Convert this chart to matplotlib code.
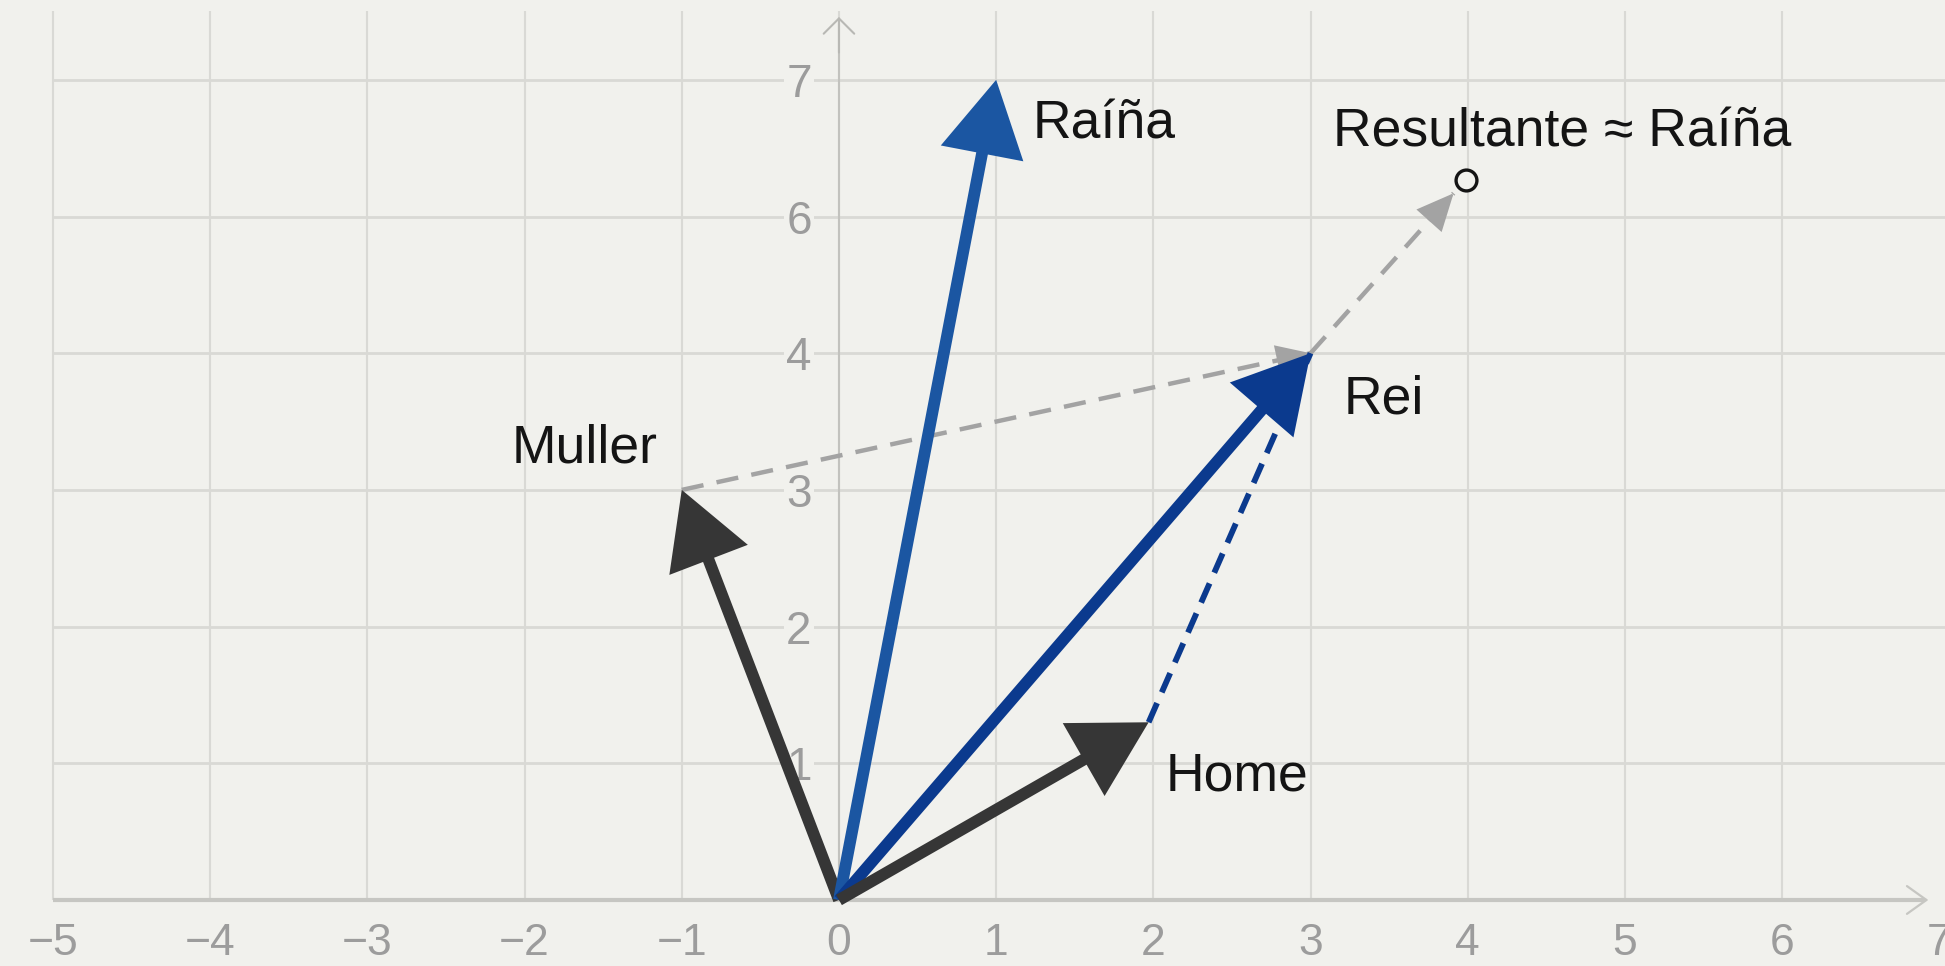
import matplotlib
matplotlib.use('Agg')
import matplotlib.pyplot as plt
from matplotlib.patches import FancyArrowPatch

# ---------------- data ----------------
x_ticks = [-5, -4, -3, -2, -1, 0, 1, 2, 3, 4, 5, 6, 7]
x_tick_labels = ['\u22125', '\u22124', '\u22123', '\u22122', '\u22121', '0', '1', '2', '3', '4', '5', '6', '7']
y_grid = [1, 2, 3, 4, 5, 6]
y_tick_labels = ['1', '2', '3', '4', '6', '7']

vec_names = ['Muller', 'Raíña', 'Rei', 'Home']
vec_x = [-1.0, 1.0, 3.0, 1.97]
vec_y = [3.0, 6.0, 4.0, 1.3]

resultant_end = (3.91, 5.17)
resultant_point = (3.99, 5.27)
resultant_label = 'Resultante \u2248 Raíña'

# ---------------- style ----------------
BG = '#f1f1ed'
GRID = '#d9d9d5'
AXIS = '#c6c6c2'
TICK = '#9c9c9c'
TXT = '#141414'
DARK = '#363636'
BLUE = '#1b56a2'
NAVY = '#0b3a8e'
GRAYD = '#a3a3a3'
vec_colors = [DARK, BLUE, NAVY, DARK]

plt.rcParams['font.family'] = ['Liberation Sans', 'DejaVu Sans']

fig = plt.figure(figsize=(19.45, 9.66), dpi=100, facecolor=BG)
ax = fig.add_axes([0, 0, 1, 1])
ax.set_facecolor(BG)
ax.set_xlim(-5.337, 7.036)
ax.set_ylim(-0.483, 6.584)
ax.axis('off')

top = 6.50
# grid
ax.vlines(x_ticks[:-1], 0, top, color=GRID, lw=1.5, zorder=1)
ax.hlines(y_grid, -5, 7.1, color=GRID, lw=2.0, zorder=1)

# axes
ax.plot([-5, 6.9], [0, 0], color=AXIS, lw=3.0, zorder=2, solid_capstyle='butt')
ax.add_patch(FancyArrowPatch((6.7, 0), (6.93, 0), arrowstyle='->,head_length=14,head_width=10',
                             mutation_scale=1, color=AXIS, lw=1.6, shrinkA=0, shrinkB=0, zorder=2))
ax.plot([0, 0], [0, 6.4], color='#c2c2be', lw=1.5, zorder=2)
ax.add_patch(FancyArrowPatch((0, 6.2), (0, 6.46), arrowstyle='->,head_length=11,head_width=11',
                             mutation_scale=1, color='#b8b8b4', lw=1.5, shrinkA=0, shrinkB=0, zorder=2))

# tick labels
for xv, lab in zip(x_ticks, x_tick_labels):
    ax.text(xv, -0.405, lab, ha='center', va='baseline', fontsize=32, color=TICK, zorder=3)
for yv, lab in zip(y_grid, y_tick_labels):
    ax.text(-0.255, yv - 0.125, lab, ha='center', va='baseline', fontsize=33, color=TICK, zorder=3,
            bbox=dict(boxstyle='square,pad=0.05', fc=BG, ec='none'))


def head(p0, p1, color, lw, hl, hw, z):
    # short solid arrow segment ending at p1 that carries only the head
    f = 0.97
    a = (p0[0] + (p1[0] - p0[0]) * f, p0[1] + (p1[1] - p0[1]) * f)
    ax.add_patch(FancyArrowPatch(a, p1, arrowstyle=f'-|>,head_length={hl},head_width={hw}',
                                 mutation_scale=1, color=color, lw=lw, shrinkA=0, shrinkB=0,
                                 joinstyle='miter', zorder=z))


# dashed helper lines
mul = (vec_x[0], vec_y[0])
rei = (vec_x[2], vec_y[2])
home = (vec_x[3], vec_y[3])
ax.plot([mul[0], rei[0]], [mul[1], rei[1]], color=GRAYD, lw=3.2, dashes=(5, 3), zorder=4)
head(mul, rei, GRAYD, 1.5, 22, 10, 4)
ax.plot([rei[0], resultant_end[0]], [rei[1], resultant_end[1]], color=GRAYD, lw=3.2, dashes=(5, 3), zorder=4)
head(rei, resultant_end, GRAYD, 1.5, 24, 11, 4)
ax.plot([home[0], rei[0]], [home[1], rei[1]], color=NAVY, lw=4.2, dashes=(3.6, 2.0), zorder=4)

# main vectors
for vx, vy, c in zip(vec_x, vec_y, vec_colors):
    ax.add_patch(FancyArrowPatch((0, 0), (vx, vy), arrowstyle='-|>,head_length=41,head_width=23',
                                 mutation_scale=1, color=c, lw=8.5, shrinkA=0, shrinkB=0,
                                 joinstyle='miter', capstyle='butt', zorder=5))

# resultant point
ax.plot([resultant_point[0]], [resultant_point[1]], marker='o', ms=15, mfc=BG, mec=TXT, mew=2.4, zorder=6)

# labels
label_pos = {'Muller': (-2.08, 3.20), 'Raíña': (1.23, 5.574), 'Rei': (3.21, 3.56), 'Home': (2.08, 0.80)}
for name in vec_names:
    px, py = label_pos[name]
    ax.text(px, py, name, ha='left', va='baseline', fontsize=38.5, color=TXT, zorder=7)
ax.text(3.14, 5.51, resultant_label, ha='left', va='baseline', fontsize=38.5, color=TXT, zorder=7)

fig.savefig('out.png', dpi=100, facecolor=BG)
